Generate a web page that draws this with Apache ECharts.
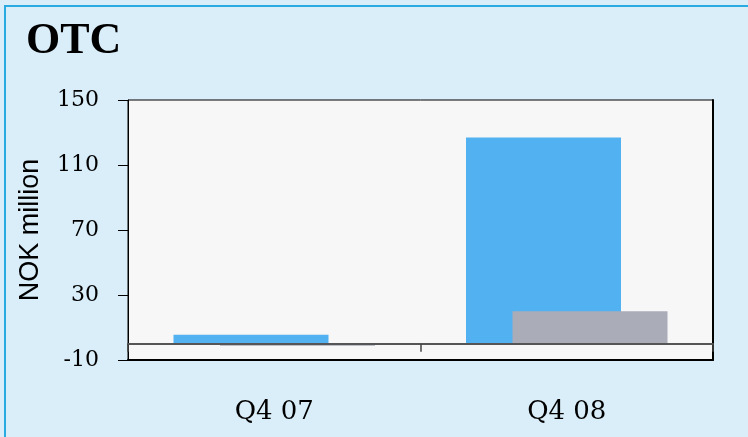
<!DOCTYPE html>
<html>
<head>
<meta charset="utf-8">
<title>OTC</title>
<script src="https://cdn.jsdelivr.net/npm/echarts@6/dist/echarts.min.js"></script>
<style>
    html, body { margin: 0; padding: 0; background: #d9eef9; }
    #otc-chart { width: 748px; height: 437px; }
</style>
</head>
<body>
<div id="otc-chart"></div>
<script>
// chart data
const categories = ['Q4 07', 'Q4 08'];
const blueValues = [5.5, 127];
const grayValues = [-1.2, 20];
const yTicks = [-10, 30, 70, 110, 150];

const myChart = echarts.init(document.getElementById('otc-chart'));

const option = {
    backgroundColor: '#d9eef9',
    animation: false,
    graphic: [{
        type: 'rect',
        shape: { x: 5, y: 6, width: 1200, height: 900 },
        style: { fill: 'none', stroke: '#29abe2', lineWidth: 2 }
    }],
    title: {
        text: 'OTC',
        left: 21,
        top: 15,
        textStyle: {
            fontFamily: 'Liberation Serif',
            fontWeight: 'bold',
            fontSize: 44,
            color: '#000'
        }
    },
    grid: {
        left: 128,
        right: 35,
        top: 100,
        bottom: 77,
        show: true,
        backgroundColor: '#f7f7f7',
        borderColor: '#000',
        borderWidth: 1
    },
    xAxis: [{
        type: 'category',
        data: categories,
        z: 5,
        axisLine: { onZero: true, lineStyle: { color: '#555', width: 2 } },
        axisTick: { show: true, length: 8, lineStyle: { color: '#444', width: 1.5 } },
        axisLabel: {
            margin: 39,
            fontFamily: 'DejaVu Serif',
            fontSize: 26,
            color: '#000'
        }
    }, {
        type: 'category',
        data: categories,
        position: 'bottom',
        z: 5,
        axisLine: { onZero: false, lineStyle: { color: '#000', width: 2 } },
        axisTick: { show: false },
        axisLabel: { show: false }
    }],
    yAxis: [{
        type: 'value',
        min: yTicks[0],
        max: yTicks[yTicks.length - 1],
        interval: 40,
        name: 'NOK million',
        nameLocation: 'middle',
        nameGap: 84,
        nameTextStyle: {
            fontFamily: 'Liberation Sans',
            fontSize: 27,
            color: '#000'
        },
        axisLine: { show: true, lineStyle: { color: '#000', width: 1 } },
        axisTick: { show: true, length: 10, lineStyle: { color: '#000' } },
        splitLine: { show: false },
        axisLabel: {
            margin: 29,
            fontFamily: 'DejaVu Serif',
            fontSize: 22,
            color: '#000'
        }
    }, {
        type: 'value',
        position: 'right',
        min: yTicks[0],
        max: yTicks[yTicks.length - 1],
        interval: 40,
        axisLine: { show: true, lineStyle: { color: '#000', width: 2 } },
        axisTick: { show: false },
        axisLabel: { show: false },
        splitLine: { show: false }
    }],
    series: [{
        name: 'Blue',
        type: 'bar',
        data: blueValues,
        barWidth: 155,
        barGap: '-70%',
        itemStyle: { color: '#52b1f0' }
    }, {
        name: 'Gray',
        type: 'bar',
        data: grayValues,
        barWidth: 155,
        barGap: '-70%',
        itemStyle: { color: '#aaacb8' }
    }]
};

myChart.setOption(option);
</script>
</body>
</html>
